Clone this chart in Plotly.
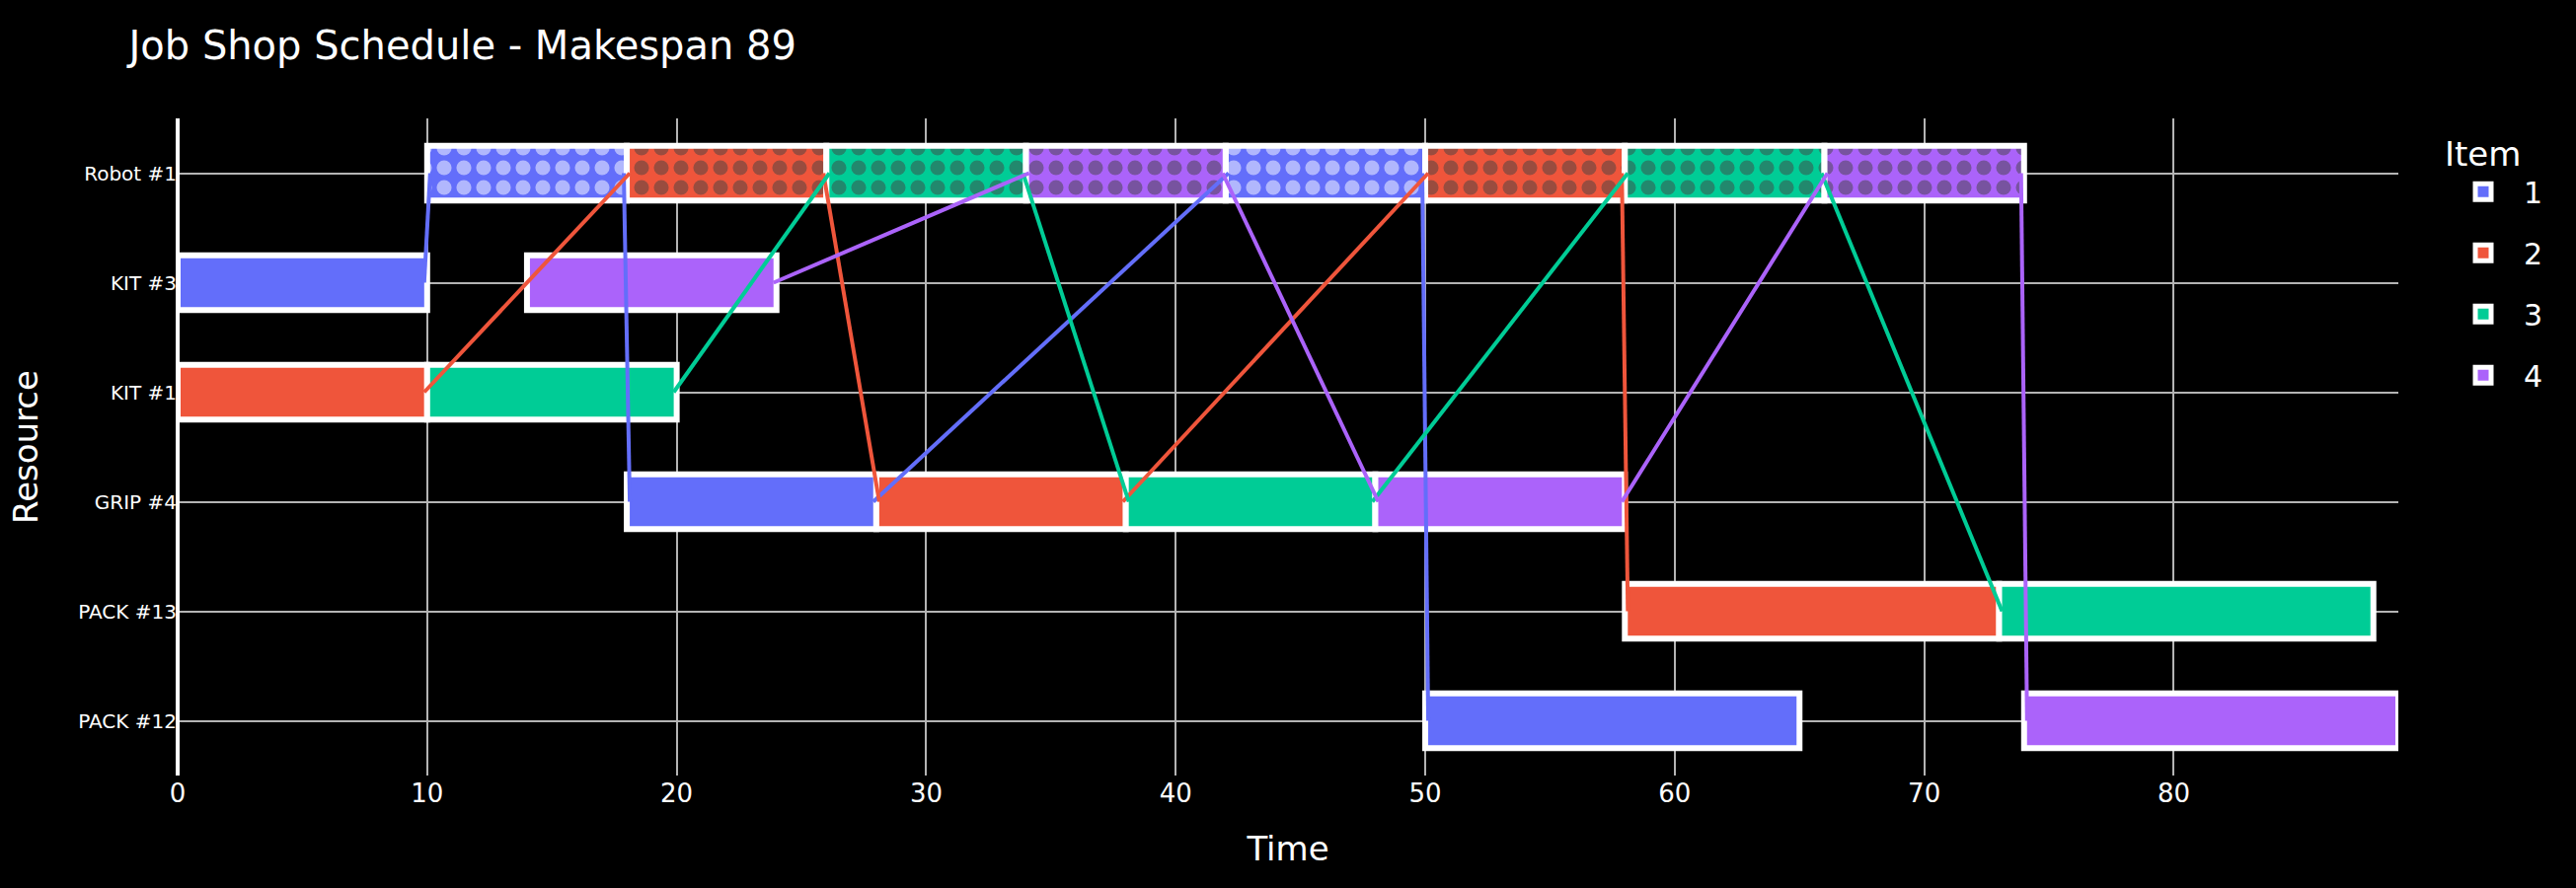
import plotly.graph_objects as go

# ---- data ----
resources = ["Robot #1", "KIT #3", "KIT #1", "GRIP #4", "PACK #13", "PACK #12"]
items = [1, 2, 3, 4]
colors = ["#636EFA", "#EF553B", "#00CC96", "#AB63FA"]

op_item = [1, 1, 1, 1, 1,
           2, 2, 2, 2, 2,
           3, 3, 3, 3, 3,
           4, 4, 4, 4, 4]
op_resource = ["KIT #3", "Robot #1", "GRIP #4", "Robot #1", "PACK #12",
               "KIT #1", "Robot #1", "GRIP #4", "Robot #1", "PACK #13",
               "KIT #1", "Robot #1", "GRIP #4", "Robot #1", "PACK #13",
               "KIT #3", "Robot #1", "GRIP #4", "Robot #1", "PACK #12"]
op_start = [0, 10, 18, 42, 50,
            0, 18, 28, 50, 58,
            10, 26, 38, 58, 73,
            14, 34, 48, 66, 74]
op_end = [10, 18, 28, 50, 65,
          10, 26, 38, 58, 73,
          20, 34, 48, 66, 88,
          24, 42, 58, 74, 89]
makespan = 89

FONT = "DejaVu Sans"
LINK_INSET = 0.12
fig = go.Figure()

for it, col in zip(items, colors):
    idx = [i for i in range(len(op_item)) if op_item[i] == it]
    normal = [i for i in idx if op_resource[i] != "Robot #1"]
    robot = [i for i in idx if op_resource[i] == "Robot #1"]
    fig.add_trace(go.Bar(
        orientation="h",
        y=[op_resource[i] for i in normal],
        base=[op_start[i] for i in normal],
        x=[op_end[i] - op_start[i] for i in normal],
        width=0.5,
        marker=dict(color=col, line=dict(color="white", width=6)),
        name=str(it), legendgroup=str(it), showlegend=False,
    ))
    fig.add_trace(go.Bar(
        orientation="h",
        y=[op_resource[i] for i in robot],
        base=[op_start[i] for i in robot],
        x=[op_end[i] - op_start[i] for i in robot],
        width=0.5,
        marker=dict(color=col, line=dict(color="white", width=6),
                    pattern=dict(shape=".", size=20, solidity=0.45)),
        name=str(it), legendgroup=str(it), showlegend=False,
    ))

for it, col in zip(items, colors):
    idx = [i for i in range(len(op_item)) if op_item[i] == it]
    lx, ly = [], []
    for a, b in zip(idx[:-1], idx[1:]):
        lx += [op_end[a] - LINK_INSET, op_start[b] + LINK_INSET, None]
        ly += [op_resource[a], op_resource[b], None]
    fig.add_trace(go.Scatter(
        x=lx, y=ly, mode="lines",
        line=dict(color=col, width=4),
        legendgroup=str(it), showlegend=False, hoverinfo="skip",
    ))

# legend entries
for it, col in zip(items, colors):
    fig.add_trace(go.Scatter(
        x=[None], y=[None], mode="markers",
        marker=dict(symbol="square", size=24, color=col,
                    line=dict(color="white", width=6)),
        name=str(it), legendgroup=str(it), showlegend=True,
    ))

fig.update_layout(
    width=2610, height=900,
    barmode="overlay",
    paper_bgcolor="black", plot_bgcolor="black",
    font=dict(family=FONT, color="white", size=26),
    title=dict(text=f"Job Shop Schedule - Makespan {makespan}",
               font=dict(size=40, family=FONT, color="white"), x=0.05),
    margin=dict(l=180, r=180, t=120, b=114),
    legend=dict(title=dict(text="Item", font=dict(size=34)),
                font=dict(size=30), tracegroupgap=20, itemwidth=72,
                itemsizing="trace", y=0.994),
    xaxis=dict(title=dict(text="Time", font=dict(size=34), standoff=30),
               range=[0, makespan], dtick=10,
               showgrid=True, gridcolor="#b4b4b4", gridwidth=2,
               zeroline=True, zerolinecolor="white", zerolinewidth=4,
               tickfont=dict(size=26), showline=False),
    yaxis=dict(title=dict(text="Resource", font=dict(size=34), standoff=30),
               type="category", categoryorder="array",
               categoryarray=resources[::-1],
               showgrid=True, gridcolor="#b4b4b4", gridwidth=2,
               tickfont=dict(size=20), zeroline=False, showline=False),
)

fig.write_html("out.html")
